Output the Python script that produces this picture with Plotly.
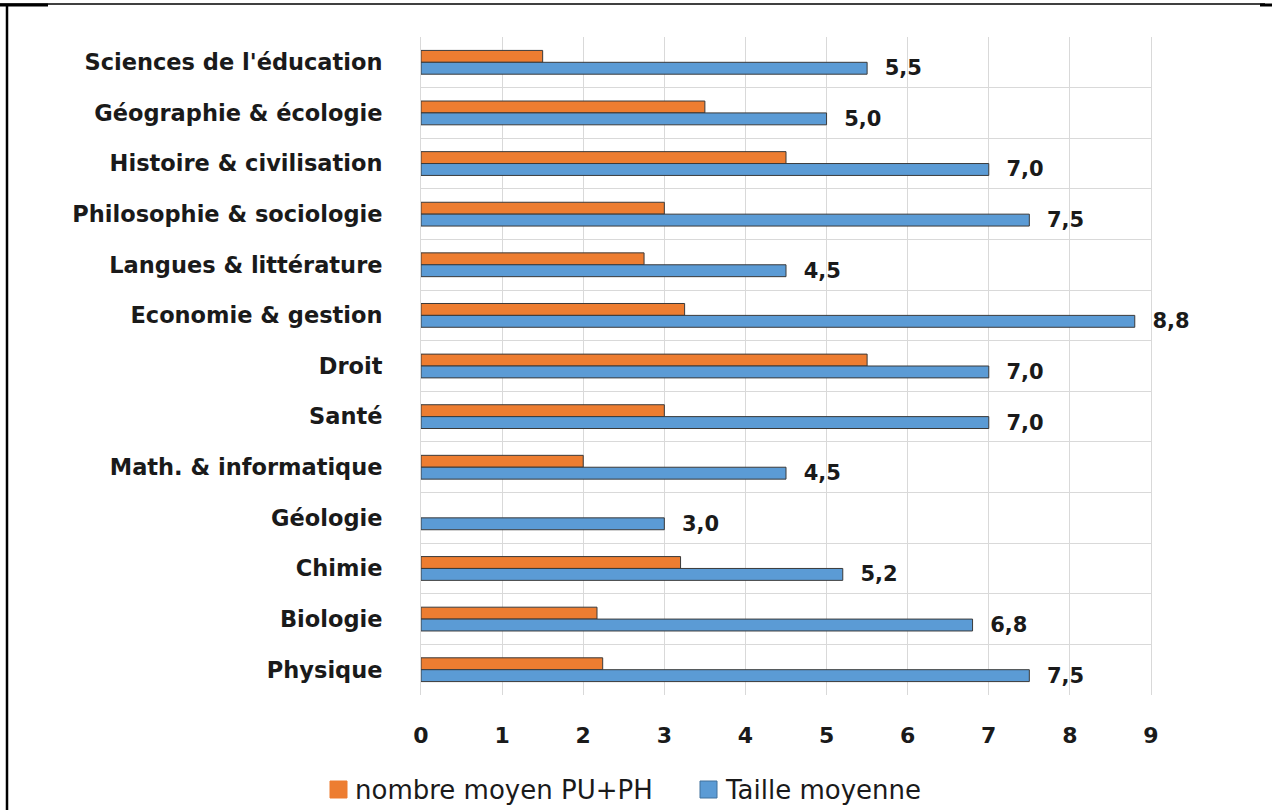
import plotly.graph_objects as go

categories = [
    "Sciences de l'éducation", "Géographie & écologie", "Histoire & civilisation",
    "Philosophie & sociologie", "Langues & littérature", "Economie & gestion",
    "Droit", "Santé", "Math. & informatique", "Géologie", "Chimie", "Biologie", "Physique",
]
nombre_moyen = [1.5, 3.5, 4.5, 3.0, 2.75, 3.25, 5.5, 3.0, 2.0, None, 3.2, 2.17, 2.24]
taille_moyenne = [5.5, 5.0, 7.0, 7.5, 4.5, 8.8, 7.0, 7.0, 4.5, 3.0, 5.2, 6.8, 7.5]
x_ticks = [0, 1, 2, 3, 4, 5, 6, 7, 8, 9]
series_names = ["nombre moyen PU+PH", "Taille moyenne"]

ORANGE = "#ED7D31"
BLUE = "#5B9BD5"
OUTLINE = "#3a3a3a"
FONT = "DejaVu Sans"
TXT = "#1a1a1a"

W, H = 1272, 810
L, R, T, B = 421, 121, 37, 115
PW, PH = W - L - R, H - T - B

def px(x):
    return (x - L) / PW

def py(y):
    return (H - B - y) / PH

fig = go.Figure()
fig.add_trace(go.Bar(
    y=categories, x=nombre_moyen, orientation="h", name=series_names[0],
    marker=dict(color=ORANGE, line=dict(color=OUTLINE, width=1)),
))
fig.add_trace(go.Bar(
    y=categories, x=taille_moyenne, orientation="h", name=series_names[1],
    marker=dict(color=BLUE, line=dict(color=OUTLINE, width=1)),
    texttemplate="  %{x:.1f}", textposition="outside", cliponaxis=False,
    constraintext="none",
    textfont=dict(family=FONT, size=21, color=TXT, weight="bold"),
))

# manual legend (square swatches + text) placed below the axis
legend_items = [(series_names[0], ORANGE, 330), (series_names[1], BLUE, 700)]
shapes = []
annotations = []
for name, color, x0 in legend_items:
    shapes.append(dict(type="rect", xref="paper", yref="paper",
                       x0=px(x0), x1=px(x0 + 17), y0=py(798), y1=py(781),
                       fillcolor=color, line=dict(color=color if color == ORANGE else "#41719c", width=1)))
    annotations.append(dict(xref="paper", yref="paper", x=px(x0 + 23), y=py(790),
                            xanchor="left", yanchor="middle", showarrow=False, text=name,
                            font=dict(family=FONT, size=26, color=TXT)))

shapes += [
    dict(type="line", xref="paper", yref="paper", x0=px(0), x1=px(1265),
         y0=py(4), y1=py(4), line=dict(color="black", width=1.5)),
    dict(type="line", xref="paper", yref="paper", x0=px(7), x1=px(7),
         y0=py(4), y1=py(810), line=dict(color="black", width=2.5)),
    dict(type="line", xref="paper", yref="paper", x0=px(0), x1=px(48),
         y0=py(5), y1=py(5), line=dict(color="black", width=3)),
    dict(type="line", xref="paper", yref="paper", x0=px(1260), x1=px(1272),
         y0=py(5), y1=py(5), line=dict(color="black", width=3)),
]

fig.update_layout(
    width=W, height=H,
    margin=dict(l=L, r=R, t=T, b=B, autoexpand=False),
    paper_bgcolor="white", plot_bgcolor="white",
    barmode="group", bargap=0.53, bargroupgap=0,
    separators=", ",
    font=dict(family=FONT, color=TXT),
    showlegend=False,
    xaxis=dict(
        range=[0, 9], tickvals=x_ticks, showgrid=True, gridcolor="#d9d9d9", gridwidth=1,
        zeroline=False, showline=False,
        tickfont=dict(family=FONT, size=22, color=TXT, weight="bold"),
        ticklabelstandoff=25,
    ),
    yaxis=dict(
        categoryorder="array", categoryarray=categories, autorange="reversed",
        tickson="boundaries", showgrid=True, gridcolor="#d9d9d9", gridwidth=1,
        showline=True, linecolor="#d9d9d9", mirror=True,
        tickfont=dict(family=FONT, size=22.5, color=TXT, weight="bold"),
        ticklabelstandoff=33, ticks="",
    ),
    shapes=shapes,
    annotations=annotations,
)

fig.write_html("out.html", config={"displayModeBar": False},
               post_script="document.body.style.margin='0';document.body.style.overflow='hidden';")
